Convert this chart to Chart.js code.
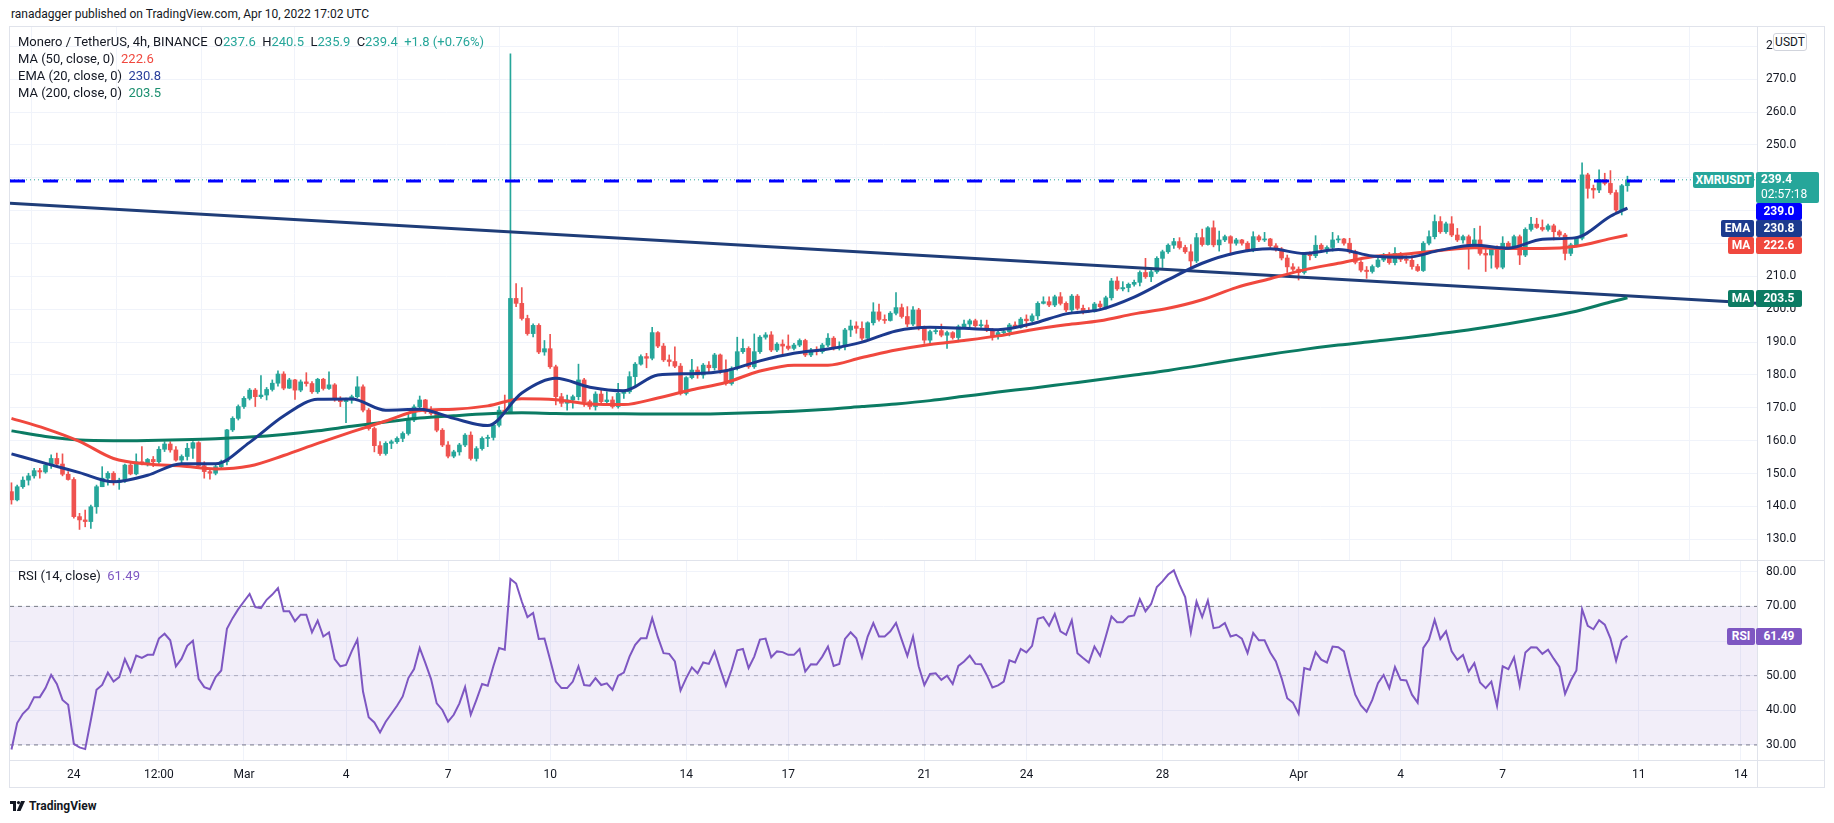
<!DOCTYPE html>
<html>
<head>
<meta charset="utf-8">
<title>Monero / TetherUS, 4h</title>
<script src="https://cdn.jsdelivr.net/npm/chart.js@4.4.1/dist/chart.umd.min.js"></script>
<style>
  body { margin: 0; background: #fff; font-family: Roboto, 'Liberation Sans', sans-serif; color: #131722; }
  #page { position: relative; width: 1834px; height: 823px; overflow: hidden; }
  .abs { position: absolute; }
  #header { left: 11px; top: 7px; font-size: 12px; white-space: nowrap; }
  #frame { left: 9px; top: 26px; width: 1814px; height: 760px; border: 1px solid #e0e3eb; }
  .sep { background: #e0e3eb; }
  .legend { left: 18px; font-size: 13px; line-height: 17px; white-space: nowrap; }
  .up { color: #26a69a; }
  .badge { font-size: 12px; font-weight: bold; color: #fff; text-align: center; border-radius: 2px; white-space: nowrap; }
  #usdt { left: 1773px; top: 33px; width: 32px; height: 16px; line-height: 16px; border: 1px solid #d1d4dc; border-radius: 3px;
          background: #fff; font-size: 12px; text-align: center; }
  #tvlogo { left: 10px; top: 799px; font-size: 12px; font-weight: bold; white-space: nowrap; display: flex; align-items: center; gap: 3px; }
</style>
</head>
<body>
<div id="page">
  <div id="header" class="abs">ranadagger published on TradingView.com, Apr 10, 2022 17:02 UTC</div>
  <div id="frame" class="abs"></div>
  <canvas id="priceChart" class="abs" width="1814" height="533" style="left:10px;top:27px;width:1814px;height:533px"></canvas>
  <canvas id="rsiChart" class="abs" width="1814" height="226" style="left:10px;top:561px;width:1814px;height:226px"></canvas>
  <div class="abs sep" style="left:10px;top:560px;width:1814px;height:1px"></div>
  <div class="abs sep" style="left:10px;top:760px;width:1814px;height:1px"></div>
  <div class="abs sep" style="left:1757px;top:27px;width:1px;height:760px"></div>

  <div class="abs legend" style="top:33px">Monero / TetherUS, 4h, BINANCE&nbsp;&nbsp;O<span class="up">237.6</span>&nbsp;&nbsp;H<span class="up">240.5</span>&nbsp;&nbsp;L<span class="up">235.9</span>&nbsp;&nbsp;C<span class="up">239.4</span>&nbsp;&nbsp;<span class="up">+1.8 (+0.76%)</span></div>
  <div class="abs legend" style="top:50px">MA (50, close, 0)&nbsp;&nbsp;<span style="color:#f0483e">222.6</span></div>
  <div class="abs legend" style="top:67px">EMA (20, close, 0)&nbsp;&nbsp;<span style="color:#2a3f9b">230.8</span></div>
  <div class="abs legend" style="top:84px">MA (200, close, 0)&nbsp;&nbsp;<span style="color:#1b8f6f">203.5</span></div>
  <div class="abs legend" style="top:567px">RSI (14, close)&nbsp;&nbsp;<span style="color:#7e57c2">61.49</span></div>

  <div id="usdt" class="abs">USDT</div>
  <div id="badges"></div>

  <div id="tvlogo" class="abs">
    <svg width="16" height="10" viewBox="0 0 16 10"><rect x="0" y="0" width="6" height="3" fill="#131722"/><rect x="3" y="0" width="3" height="10" fill="#131722"/><circle cx="8.5" cy="1.6" r="1.6" fill="#131722"/><polygon points="11,0 15,0 10.5,10 6.8,10" fill="#131722"/></svg>
    <span>TradingView</span>
  </div>
</div>

<script>
// ---- candles (4h bars, bar 0 = Feb 22 04:00, bar 285 = Apr 10 16:00) ----
const opens = [
  144.5,142.0,146.0,148.0,149.3,150.9,150.5,152.6,154.6,152.9,
  149.8,148.2,136.9,135.9,135.4,139.9,146.0,148.6,150.1,147.3,
  148.0,152.6,149.9,153.6,153.1,154.3,153.6,157.4,159.0,157.2,
  154.1,155.2,157.7,159.4,152.4,150.6,150.1,152.1,153.6,163.3,
  166.8,170.4,172.9,175.4,173.4,173.9,175.6,177.5,180.3,176.0,
  178.5,175.4,177.9,177.4,174.9,178.7,175.9,177.0,172.6,171.9,
  172.4,173.4,176.4,169.3,163.7,158.5,156.1,159.2,159.7,160.7,
  162.2,166.3,170.3,172.4,168.8,168.3,163.2,158.7,155.3,156.6,
  158.7,161.7,154.6,157.6,160.7,161.0,164.7,169.3,168.8,203.3,
  201.8,197.2,192.6,195.1,187.0,188.0,182.5,173.4,171.4,172.4,
  173.4,178.5,171.9,170.4,174.2,171.9,172.4,170.4,174.4,174.9,
  179.5,183.3,185.6,185.1,192.9,188.8,184.6,184.1,182.7,174.4,
  179.2,181.5,180.0,183.0,182.2,186.1,181.5,177.4,182.0,187.1,
  188.1,182.5,187.1,191.5,192.2,187.6,189.4,188.8,188.1,189.1,
  190.5,186.1,187.6,187.1,189.1,191.2,188.1,188.6,193.7,194.9,
  194.2,191.2,195.9,199.2,196.9,196.6,198.8,200.5,197.8,195.5,
  199.8,194.2,190.6,193.2,193.5,192.1,192.9,191.4,194.7,195.5,
  196.5,195.0,195.2,193.7,191.7,192.9,193.2,195.2,194.5,197.0,
  196.5,198.0,201.8,202.3,201.3,203.8,201.8,199.8,204.0,200.3,
  199.6,199.3,201.6,200.8,203.5,208.6,206.2,206.6,207.6,208.2,
  211.2,209.9,211.4,215.5,217.5,219.5,220.6,218.8,217.5,214.7,
  221.8,219.7,224.8,219.6,221.1,222.1,220.1,221.1,220.1,218.0,
  222.1,221.1,221.4,219.3,218.3,215.6,212.9,212.2,211.2,216.7,
  216.3,219.5,218.3,218.8,221.1,221.4,220.1,217.5,214.3,211.9,
  211.5,213.0,215.0,216.5,214.2,217.0,215.2,214.9,213.0,211.8,
  220.1,222.1,226.7,223.6,226.0,222.6,221.1,222.1,219.0,221.1,
  217.0,216.5,218.5,212.8,220.1,218.8,222.1,216.5,224.3,225.9,
  224.9,224.3,225.4,223.6,222.6,217.0,219.6,221.6,240.9,236.8,
  236.3,239.5,238.3,235.5,230.2,237.6
];
const highs = [
  147.2,146.5,149.0,150.1,151.6,151.6,153.1,155.7,156.2,156.0,
  150.6,148.8,137.9,138.9,140.4,146.5,152.1,150.6,150.6,148.6,
  152.9,153.1,156.0,158.2,154.6,155.2,158.2,159.7,159.7,158.2,
  155.7,159.2,159.7,159.7,153.6,151.1,152.6,154.1,163.5,167.3,
  170.9,173.4,175.9,175.9,179.8,176.2,178.5,181.3,181.0,179.0,
  178.7,178.5,180.7,178.0,179.0,179.0,181.0,177.4,173.4,173.0,
  173.9,179.5,177.0,169.8,164.2,159.7,159.7,160.2,161.2,162.7,
  168.3,170.9,173.6,172.6,170.4,169.3,163.7,159.7,157.1,159.2,
  162.2,162.7,158.2,161.2,161.7,165.2,170.4,173.9,277.7,207.8,
  206.6,198.2,195.6,195.6,190.5,192.4,183.0,174.4,173.9,173.9,
  183.3,179.0,172.4,174.9,175.4,174.9,173.4,177.5,175.4,181.0,
  183.8,186.1,186.6,194.5,193.2,189.6,186.1,188.6,183.5,179.5,
  184.8,182.5,183.5,184.1,186.6,186.4,184.6,182.5,191.5,190.9,
  188.6,192.5,192.0,192.9,193.2,189.9,190.7,192.2,189.6,191.0,
  190.9,188.1,188.6,189.6,192.6,191.7,190.1,194.2,196.7,196.2,
  196.2,196.2,202.0,201.6,198.3,199.3,205.1,201.6,200.8,200.8,
  200.3,194.9,193.7,194.7,195.5,193.4,193.2,195.2,196.7,197.0,
  197.0,196.7,196.7,194.2,193.4,193.7,195.7,196.2,197.5,198.3,
  198.6,202.3,203.8,203.8,204.3,205.1,202.3,204.5,204.5,201.3,
  200.5,202.1,202.5,204.0,209.4,209.9,208.4,208.0,208.9,211.7,
  215.5,211.9,216.0,218.0,219.9,221.6,221.8,219.5,219.7,223.1,
  224.4,225.2,226.9,223.8,222.6,222.4,221.6,221.3,220.6,223.6,
  222.6,223.4,221.6,220.0,218.8,216.5,213.9,212.9,217.2,217.5,
  222.4,220.0,219.3,223.4,222.4,221.6,221.6,218.0,214.8,213.0,
  213.5,215.5,217.0,217.3,218.8,217.3,216.3,216.3,213.7,220.6,
  223.9,228.7,228.2,226.5,228.2,224.6,222.6,222.6,224.6,225.3,
  218.5,219.0,219.3,222.1,220.6,222.6,222.6,224.8,228.0,227.7,
  227.2,225.9,225.9,224.1,223.1,220.1,222.1,244.6,241.4,237.8,
  242.4,241.4,242.2,236.3,238.0,240.5
];
const lows = [
  140.7,141.7,145.5,146.5,148.6,148.6,150.1,151.6,152.4,149.3,
  148.0,136.4,133.0,133.8,133.3,137.9,146.0,146.5,146.5,145.2,
  147.3,149.6,149.6,152.6,152.3,152.1,153.1,156.7,156.5,153.8,
  152.6,154.1,154.6,152.1,148.6,148.3,149.6,151.6,152.6,162.8,
  166.3,169.8,172.4,170.4,172.9,172.4,175.1,176.6,175.5,175.9,
  172.6,174.9,176.6,174.4,174.4,175.4,175.6,172.0,170.4,165.5,
  171.4,173.0,168.8,163.2,156.6,155.5,155.6,157.6,159.2,159.7,
  161.7,165.8,168.8,168.3,167.8,162.7,158.2,154.8,154.8,155.6,
  158.2,154.1,153.8,157.1,158.2,160.2,164.2,168.3,168.3,200.8,
  196.7,192.1,191.6,186.5,186.0,182.0,170.9,170.4,169.3,169.9,
  172.4,170.4,169.6,169.3,171.4,171.0,169.9,169.9,172.9,174.4,
  176.4,183.0,182.2,184.6,188.3,184.1,182.7,182.2,173.9,173.9,
  178.8,179.0,179.0,181.0,181.5,180.5,176.9,176.9,181.5,186.6,
  182.0,182.0,186.6,190.9,187.1,187.1,186.1,187.6,187.6,188.6,
  185.6,185.6,186.1,186.6,188.6,187.6,187.6,187.6,191.7,192.7,
  190.6,191.0,195.2,196.4,195.7,196.4,198.3,197.3,194.7,195.0,
  193.7,189.6,189.6,192.5,191.6,188.1,190.9,190.1,194.2,194.7,
  194.5,194.5,193.2,190.6,190.9,192.0,191.9,194.2,194.2,194.5,
  196.2,196.9,201.6,200.8,200.8,201.3,199.3,199.1,199.8,198.6,
  199.1,199.1,200.3,200.0,202.8,205.7,205.6,205.3,207.0,207.1,
  209.4,208.4,210.9,212.7,217.0,218.5,218.3,217.0,213.0,214.2,
  219.2,219.5,219.0,217.7,220.6,216.5,219.5,219.5,217.5,217.5,
  220.6,220.6,218.8,217.7,215.0,211.2,211.6,208.9,210.7,215.0,
  215.7,217.7,217.0,217.7,220.3,219.5,217.0,213.8,211.4,209.4,
  211.0,212.7,214.5,213.7,213.5,214.5,214.0,212.2,211.5,211.5,
  219.6,221.4,223.1,223.1,222.1,220.6,220.1,212.2,218.5,216.5,
  211.5,212.5,212.3,212.3,218.3,218.3,213.6,216.0,223.8,224.6,
  223.8,223.8,221.1,222.1,215.0,216.3,219.0,221.1,233.8,233.8,
  235.5,237.8,235.0,229.7,228.7,235.9
];
const closes = [
  142.0,146.0,148.0,149.3,150.9,150.5,152.6,154.6,152.9,149.8,
  148.2,136.9,135.9,135.4,139.9,146.0,148.6,150.1,147.3,148.0,
  152.6,149.9,153.6,153.1,154.3,153.6,157.4,159.0,157.2,154.1,
  155.2,157.7,159.4,152.4,150.6,150.1,152.1,153.6,163.3,166.8,
  170.4,172.9,175.4,173.4,173.9,175.6,177.5,180.3,176.0,178.5,
  175.4,177.9,177.4,174.9,178.7,175.9,177.0,172.6,171.9,172.4,
  173.4,176.4,169.3,163.7,158.5,156.1,159.2,159.7,160.7,162.2,
  166.3,170.3,172.4,168.8,168.3,163.2,158.7,155.3,156.6,158.7,
  161.7,154.6,157.6,160.7,161.0,164.7,169.3,168.8,203.3,201.8,
  197.2,192.6,195.1,187.0,188.0,182.5,173.4,171.4,172.4,173.4,
  178.5,171.9,170.4,174.2,171.9,172.4,170.4,174.4,174.9,179.5,
  183.3,185.6,185.1,192.9,188.8,184.6,184.1,182.7,174.4,179.2,
  181.5,180.0,183.0,182.2,186.1,181.5,177.4,182.0,187.1,188.1,
  182.5,187.1,191.5,192.2,187.6,189.4,188.8,188.1,189.1,190.5,
  186.1,187.6,187.1,189.1,191.2,188.1,188.6,193.7,194.9,194.2,
  191.2,195.9,199.2,196.9,196.6,198.8,200.5,197.8,195.5,199.8,
  194.2,190.6,193.2,193.5,192.1,192.9,191.4,194.7,195.5,196.5,
  195.0,195.2,193.7,191.7,192.9,193.2,195.2,194.5,197.0,196.5,
  198.0,201.8,202.3,201.3,203.8,201.8,199.8,204.0,200.3,199.6,
  199.3,201.6,200.8,203.5,208.6,206.2,206.6,207.6,208.2,211.2,
  209.9,211.4,215.5,217.5,219.5,220.6,218.8,217.5,214.7,221.8,
  219.7,224.8,219.6,221.1,222.1,220.1,221.1,220.1,218.0,222.1,
  221.1,221.4,219.3,218.3,215.6,212.9,212.2,211.2,216.7,216.3,
  219.5,218.3,218.8,221.1,221.4,220.1,217.5,214.3,211.9,211.5,
  213.0,215.0,216.5,214.2,217.0,215.2,214.9,213.0,211.8,220.1,
  222.1,226.7,223.6,226.0,222.6,221.1,222.1,219.0,221.1,217.0,
  216.5,218.5,212.8,220.1,218.8,222.1,216.5,224.3,225.9,224.9,
  224.3,225.4,223.6,222.6,217.0,219.6,221.6,240.9,236.8,236.3,
  239.5,238.3,235.5,230.2,237.6,239.4
];

// ---- moving averages, read every 6 bars ----
const maBars = [0,6,12,18,24,30,36,42,48,54,60,66,72,78,84,90,96,102,108,114,120,126,132,138,144,
  150,156,162,168,174,180,186,192,198,204,210,216,222,228,234,240,246,252,258,264,270,276,282,285];
const ema20 = [156.0,153.1,150.3,147.5,149.5,153.0,153.0,159.5,167.5,172.6,172.7,169.3,169.6,166.8,164.6,174.5,
  179.0,176.3,175.2,180.0,180.4,181.3,184.3,186.6,187.9,190.0,193.4,194.5,194.2,193.8,195.6,198.6,199.9,
  203.7,209.0,214.0,217.2,218.4,217.0,218.2,216.2,215.8,218.0,219.5,218.6,221.3,221.8,228.3,230.8];
const ma50 = [166.8,163.7,159.8,154.6,152.9,152.3,151.4,152.3,155.5,159.2,162.7,166.0,169.2,169.6,170.6,172.8,
  172.5,171.2,171.0,173.0,175.5,177.7,181.2,183.0,183.0,185.3,187.6,189.3,190.5,191.9,193.8,195.3,196.5,
  198.6,200.3,202.9,206.6,209.3,212.0,214.0,216.0,216.8,217.9,218.7,218.5,218.5,219.2,221.5,222.6];
const ma200 = [163.0,161.3,160.2,160.0,160.1,160.3,160.6,161.1,161.9,163.0,164.4,165.7,166.9,167.6,168.2,168.5,
  168.3,168.2,168.2,168.1,168.1,168.3,168.6,169.0,169.6,170.4,171.2,172.2,173.5,174.8,176.0,177.3,178.6,
  180.0,181.4,183.0,184.7,186.3,187.8,189.1,190.2,191.3,192.6,194.0,195.6,197.4,199.4,202.2,203.5];

// ---- RSI (14), one value per bar ----
const rsi14 = [
  28.7,36.3,39.0,40.6,43.8,43.8,46.4,50.2,47.6,43.0,
  41.6,30.3,29.3,28.8,37.2,45.9,47.3,50.9,48.3,49.6,
  54.8,51.2,55.8,55.1,56.0,56.0,60.7,62.1,60.2,52.7,
  54.9,58.6,60.1,49.1,46.7,46.1,49.6,51.5,63.5,66.6,
  69.2,71.4,73.6,69.8,69.5,71.9,73.4,75.3,68.6,68.6,
  65.7,67.6,67.6,62.5,65.9,61.3,62.5,54.8,52.7,53.1,
  57.0,60.4,45.4,38.0,36.5,33.6,36.7,39.0,41.3,44.0,
  49.3,51.9,58.0,53.6,49.0,42.0,40.1,36.7,38.7,42.0,
  46.7,38.7,43.0,47.6,47.1,52.8,58.0,57.5,77.9,76.6,
  71.4,66.9,68.1,60.6,60.7,54.6,48.3,46.4,46.4,48.3,
  52.7,47.3,47.1,49.3,47.3,47.8,45.9,50.0,50.9,55.5,
  58.9,60.8,60.8,66.6,61.1,56.5,56.3,54.1,45.7,49.3,
  52.4,50.7,53.8,53.4,57.0,51.9,47.1,51.7,57.3,57.7,
  52.2,55.5,60.4,60.7,55.3,57.0,56.8,56.0,56.0,57.7,
  51.2,53.3,53.2,55.5,58.4,52.8,53.4,60.6,62.5,60.8,
  55.3,61.3,65.2,61.3,61.3,62.8,65.2,60.4,55.7,61.3,
  52.7,47.3,50.5,50.7,48.8,50.0,47.6,52.8,54.1,55.8,
  53.4,53.3,50.2,46.6,47.2,48.3,54.4,53.8,57.7,56.7,
  58.6,66.4,66.9,64.4,67.8,62.8,61.8,66.0,56.5,55.1,
  53.8,58.4,55.7,61.3,67.1,65.4,65.4,67.1,67.4,72.1,
  68.6,70.7,75.6,77.2,79.2,80.4,76.3,72.7,62.5,71.4,
  66.9,71.7,63.7,64.0,65.2,61.3,61.8,60.7,56.5,62.3,
  60.2,60.2,56.7,54.1,49.3,43.5,42.2,39.0,52.2,51.7,
  56.8,54.6,53.8,58.4,58.2,57.0,50.5,44.5,41.4,39.6,
  43.0,47.8,50.2,46.4,52.5,48.8,48.6,44.5,42.2,58.0,
  60.4,66.1,60.6,62.8,57.0,54.6,56.0,51.2,53.6,48.0,
  46.4,48.3,41.3,52.7,51.9,55.3,47.1,56.7,58.2,58.1,
  56.3,57.5,54.9,52.5,44.7,48.6,51.5,69.2,64.4,63.4,
  66.0,64.7,60.8,54.3,60.2,61.49
];

// ---- drawings and axis labels ----
const trendBars = [-0.26, 307.85];
const trendVals = [232.3, 201.8];
const levelValue = 239.0;
const lastPrice = 239.4;
const xTickBars = [11, 26, 41, 59, 77, 95, 119, 137, 161, 179, 203, 227, 245, 263, 287, 305];
const xTickLabels = ['24', '12:00', 'Mar', '4', '7', '10', '14', '17', '21', '24', '28', 'Apr', '4', '7', '11', '14'];
const priceTicks = [130, 140, 150, 160, 170, 180, 190, 200, 210, 220, 230, 240, 250, 260, 270, 280];
const rsiTicks = [30, 40, 50, 60, 70, 80];

// ---- layout ----
const PRICE_TOP = 27, RSI_TOP = 561, AXIS_W = 67;
const X_MIN = -0.26, X_MAX = 307.85;
const PRICE_MIN = 123.7, PRICE_MAX = 285.9;
const RSI_MIN = 25.36, RSI_MAX = 83.1;
const UP = '#26a69a', DOWN = '#ef5350';
const EMA_C = '#1c3a8e', MA50_C = '#f0483e', MA200_C = '#0b7b63', TREND_C = '#1f3d78', RSI_C = '#7e57c2';
const GRID = '#f0f3fa';

Chart.defaults.font.family = "Roboto, 'Liberation Sans', sans-serif";
Chart.defaults.font.size = 12;
Chart.defaults.color = '#131722';

const pts = (xs, ys) => ys.map((v, i) => ({ x: xs[i], y: v }));
const flat = v => [{ x: X_MIN, y: v }, { x: X_MAX, y: v }];
const candleColors = closes.map((c, i) => c >= opens[i] ? UP : DOWN);

const lineStyle = (color, width) => ({
    type: 'line', borderColor: color, borderWidth: width, pointRadius: 0,
    fill: false, cubicInterpolationMode: 'monotone'
});

const xScale = (showLabels) => ({
    type: 'linear', min: X_MIN, max: X_MAX, offset: false,
    grid: { color: GRID, drawTicks: false },
    border: { display: false },
    ticks: {
        display: showLabels, padding: 7, maxRotation: 0, autoSkip: false,
        callback: (v, i) => xTickLabels[i]
    },
    afterBuildTicks: s => { s.ticks = xTickBars.map(v => ({ value: v })); },
    afterFit: s => { s.height = showLabels ? 26 : 0; s.paddingLeft = 0; s.paddingRight = 0; }
});

const yScale = (min, max, ticks, digits) => ({
    position: 'right', min: min, max: max,
    grid: { color: GRID, drawTicks: false },
    border: { display: false },
    ticks: { padding: 9, callback: v => v.toFixed(digits) },
    afterBuildTicks: s => { s.ticks = ticks.map(v => ({ value: v })); },
    afterFit: s => { s.width = AXIS_W; s.paddingTop = 0; s.paddingBottom = 0; }
});

// ===== Price pane =====
const priceChart = new Chart(document.getElementById('priceChart'), {
    type: 'bar',
    data: {
        datasets: [
            Object.assign(lineStyle(EMA_C, 3), { label: 'EMA 20', data: pts(maBars, ema20), order: 0 }),
            Object.assign(lineStyle(MA50_C, 3), { label: 'MA 50', data: pts(maBars, ma50), order: 1 }),
            Object.assign(lineStyle(MA200_C, 3), { label: 'MA 200', data: pts(maBars, ma200), order: 2 }),
            Object.assign(lineStyle(TREND_C, 3), { label: 'Trend', data: pts(trendBars, trendVals), order: 3 }),
            Object.assign(lineStyle('#0000ff', 3), { label: 'Level', data: flat(levelValue), borderDash: [15, 18], order: 4 }),
            Object.assign(lineStyle(UP, 1), { label: 'Last', data: flat(lastPrice), borderDash: [1, 3], order: 5 }),
            {
                type: 'bar', label: 'Body', order: 6, grouped: false,
                data: closes.map((c, i) => ({ x: i, y: [opens[i], c] })),
                backgroundColor: candleColors, barThickness: 4, minBarLength: 1, borderWidth: 0
            },
            {
                type: 'bar', label: 'Wick', order: 7, grouped: false,
                data: closes.map((c, i) => ({ x: i, y: [lows[i], highs[i]] })),
                backgroundColor: candleColors, barThickness: 1, borderWidth: 0
            }
        ]
    },
    options: {
        responsive: false, animation: false, devicePixelRatio: 1,
        layout: { padding: 0 },
        plugins: { legend: { display: false }, tooltip: { enabled: false } },
        scales: { x: xScale(false), y: yScale(PRICE_MIN, PRICE_MAX, priceTicks, 1) }
    }
});

// ===== RSI pane =====
const rsiChart = new Chart(document.getElementById('rsiChart'), {
    type: 'line',
    data: {
        datasets: [
            { label: 'RSI', data: rsi14.map((v, i) => ({ x: i, y: v })), borderColor: RSI_C, borderWidth: 2,
              pointRadius: 0, tension: 0, fill: false, order: 0 },
            { label: 'Upper', data: flat(70), borderColor: '#787b86', borderWidth: 1, borderDash: [4, 4],
              pointRadius: 0, fill: '+1', backgroundColor: 'rgba(126,87,194,0.1)', order: 1 },
            { label: 'Lower', data: flat(30), borderColor: '#787b86', borderWidth: 1, borderDash: [4, 4],
              pointRadius: 0, fill: false, order: 2 },
            { label: 'Middle', data: flat(50), borderColor: 'rgba(120,123,134,0.55)', borderWidth: 1, borderDash: [4, 4],
              pointRadius: 0, fill: false, order: 3 }
        ]
    },
    options: {
        responsive: false, animation: false, devicePixelRatio: 1,
        layout: { padding: 0 },
        plugins: { legend: { display: false }, tooltip: { enabled: false } },
        scales: { x: xScale(true), y: yScale(RSI_MIN, RSI_MAX, rsiTicks, 2) }
    }
});

// ===== Axis badges =====
const badgeBox = document.getElementById('badges');
function addBadge(text, left, top, width, height, bg) {
    const el = document.createElement('div');
    el.className = 'abs badge';
    el.style.left = left + 'px';
    el.style.top = top + 'px';
    el.style.width = width + 'px';
    el.style.height = height + 'px';
    el.style.lineHeight = height + 'px';
    el.style.background = bg;
    el.innerHTML = text;
    badgeBox.appendChild(el);
}

const py = v => PRICE_TOP + priceChart.scales.y.getPixelForValue(v);
const ry = v => RSI_TOP + rsiChart.scales.y.getPixelForValue(v);

const yLast = Math.round(py(lastPrice)) - 8;
addBadge('XMRUSDT', 1693, yLast, 61, 16, UP);
const priceTag = document.createElement('div');
priceTag.className = 'abs badge';
priceTag.style.cssText = 'left:1756px;top:' + yLast + 'px;width:58px;height:31px;padding-left:5px;text-align:left;line-height:15px;background:' + UP;
priceTag.innerHTML = '239.4<br><span style="font-weight:normal">02:57:18</span>';
badgeBox.appendChild(priceTag);
addBadge('239.0', 1756, yLast + 31, 46, 17, '#0000ff');
addBadge('EMA', 1721, yLast + 48, 33, 17, EMA_C);
addBadge('230.8', 1756, yLast + 48, 46, 17, EMA_C);
addBadge('MA', 1728, yLast + 65, 26, 17, MA50_C);
addBadge('222.6', 1756, yLast + 65, 46, 17, MA50_C);
const y200 = Math.round(py(203.5)) - 8;
addBadge('MA', 1728, y200, 26, 17, MA200_C);
addBadge('203.5', 1756, y200, 46, 17, MA200_C);
const yRsi = Math.round(ry(61.49)) - 8;
addBadge('RSI', 1727, yRsi, 28, 17, RSI_C);
addBadge('61.49', 1756, yRsi, 46, 17, RSI_C);
</script>
</body>
</html>
